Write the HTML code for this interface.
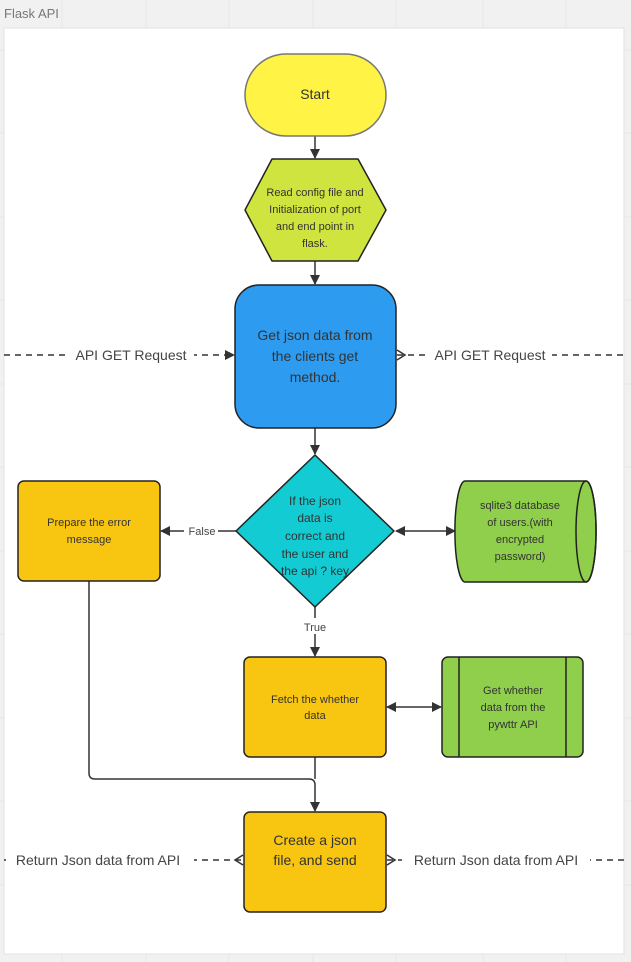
<!DOCTYPE html>
<html><head><meta charset="utf-8"><style>
html,body{margin:0;padding:0;background:#f1f1f1;}
svg{display:block;font-family:"Liberation Sans",sans-serif;}
</style></head><body>
<svg width="631" height="962" viewBox="0 0 631 962" xmlns="http://www.w3.org/2000/svg">
<defs>
<marker id="a" viewBox="0 0 10 10" refX="9" refY="5" markerWidth="10" markerHeight="10" markerUnits="userSpaceOnUse" orient="auto-start-reverse"><path d="M0,0 L10,5 L0,10 z" fill="#333"/></marker>
</defs>
<rect width="631" height="962" fill="#f1f1f1"/>
<g stroke="#e6e6e6" stroke-width="1">
<line x1="62" y1="0" x2="62" y2="962"/><line x1="146" y1="0" x2="146" y2="962"/><line x1="229" y1="0" x2="229" y2="962"/><line x1="313" y1="0" x2="313" y2="962"/><line x1="396" y1="0" x2="396" y2="962"/><line x1="483" y1="0" x2="483" y2="962"/><line x1="566" y1="0" x2="566" y2="962"/>
<line x1="0" y1="50" x2="631" y2="50"/><line x1="0" y1="133" x2="631" y2="133"/><line x1="0" y1="217" x2="631" y2="217"/><line x1="0" y1="300" x2="631" y2="300"/><line x1="0" y1="384" x2="631" y2="384"/><line x1="0" y1="467" x2="631" y2="467"/><line x1="0" y1="551" x2="631" y2="551"/><line x1="0" y1="634" x2="631" y2="634"/><line x1="0" y1="718" x2="631" y2="718"/><line x1="0" y1="801" x2="631" y2="801"/><line x1="0" y1="885" x2="631" y2="885"/>
</g>
<text x="4" y="18" font-size="13" fill="#777">Flask API</text>
<rect x="4" y="28" width="620" height="926" fill="#fff" stroke="#e2e2e2"/>

<g stroke="#333" stroke-width="1.5" fill="none">
<line x1="315" y1="136" x2="315" y2="158" marker-end="url(#a)"/>
<line x1="315" y1="261" x2="315" y2="284" marker-end="url(#a)"/>
<line x1="315" y1="428" x2="315" y2="454" marker-end="url(#a)"/>
<line x1="236" y1="531" x2="161" y2="531" marker-end="url(#a)"/>
<line x1="396" y1="531" x2="455" y2="531" marker-start="url(#a)" marker-end="url(#a)"/>
<line x1="315" y1="607" x2="315" y2="656" marker-end="url(#a)"/>
<line x1="387" y1="707" x2="441" y2="707" marker-start="url(#a)" marker-end="url(#a)"/>
<path d="M89,581 V773 Q89,779 95,779 H309 Q315,779 315,785 V811" marker-end="url(#a)"/>
<line x1="315" y1="757" x2="315" y2="779"/>
<g stroke-dasharray="6,5">
<line x1="4" y1="355" x2="234" y2="355" marker-end="url(#a)"/>
<line x1="397" y1="355" x2="624" y2="355"/>
<line x1="4" y1="860" x2="243" y2="860"/>
<line x1="387" y1="860" x2="624" y2="860"/>
</g>
<polyline points="397,350 405,355 397,360"/>
<polyline points="243,855 235,860 243,865"/>
<polyline points="387,855 395,860 387,865"/>
</g>
<g font-size="14" fill="#444" text-anchor="middle">
<rect x="68" y="345" width="126" height="20" fill="#fff"/><text x="131" y="360">API GET Request</text>
<rect x="428" y="345" width="124" height="20" fill="#fff"/><text x="490" y="360">API GET Request</text>
<rect x="6" y="850" width="188" height="20" fill="#fff"/><text x="98" y="865">Return Json data from API</text>
<rect x="402" y="850" width="188" height="20" fill="#fff"/><text x="496" y="865">Return Json data from API</text>
</g>
<g font-size="11" fill="#444" text-anchor="middle">
<rect x="184" y="523" width="34" height="16" fill="#fff"/><text x="202" y="535">False</text>
<rect x="300" y="618" width="30" height="16" fill="#fff"/><text x="315" y="631">True</text>
</g>

<rect x="245" y="54" width="141" height="82" rx="41" fill="#fff345" stroke="#777" stroke-width="1.5"/>
<text x="315" y="99" font-size="14" text-anchor="middle" fill="#333">Start</text>

<polygon points="272,159 358,159 386,210 358,261 272,261 245,210" fill="#cfe43f" stroke="#222" stroke-width="1.5" stroke-linejoin="round"/>
<g font-size="11" text-anchor="middle" fill="#333">
<text x="315" y="196">Read config file and</text><text x="315" y="213">Initialization of port</text><text x="315" y="230">and end point in</text><text x="315" y="247">flask.</text>
</g>

<rect x="235" y="285" width="161" height="143" rx="24" fill="#2d9bf0" stroke="#222" stroke-width="1.5"/>
<g font-size="14" text-anchor="middle" fill="#333">
<text x="315" y="340">Get json data from</text><text x="315" y="361">the clients get</text><text x="315" y="382">method.</text>
</g>

<polygon points="315,455 394,531 315,607 236,531" fill="#13cbd3" stroke="#222" stroke-width="1.5" stroke-linejoin="round"/>
<g font-size="12" text-anchor="middle" fill="#333">
<text x="315" y="505">If the json</text><text x="315" y="522">data is</text><text x="315" y="540">correct and</text><text x="315" y="558">the user and</text><text x="315" y="575">the api ? key</text>
</g>

<rect x="18" y="481" width="142" height="100" rx="6" fill="#f8c611" stroke="#222" stroke-width="1.5"/>
<g font-size="11" text-anchor="middle" fill="#333"><text x="89" y="526">Prepare the error</text><text x="89" y="543">message</text></g>

<path d="M465,481 H586 A10,50 0 0 1 586,582 H465 A10,50 0 0 1 465,481 Z" fill="#8fcf4b" stroke="#222" stroke-width="1.5"/>
<ellipse cx="586" cy="531.5" rx="10" ry="50.5" fill="none" stroke="#222" stroke-width="1.5"/>
<g font-size="11" text-anchor="middle" fill="#333"><text x="520" y="509">sqlite3 database</text><text x="520" y="526">of users.(with</text><text x="520" y="543">encrypted</text><text x="520" y="560">password)</text></g>

<rect x="244" y="657" width="142" height="100" rx="6" fill="#f8c611" stroke="#222" stroke-width="1.5"/>
<g font-size="11" text-anchor="middle" fill="#333"><text x="315" y="703">Fetch the whether</text><text x="315" y="719">data</text></g>

<rect x="442" y="657" width="141" height="100" rx="6" fill="#8fcf4b" stroke="#222" stroke-width="1.5"/>
<line x1="459" y1="657" x2="459" y2="757" stroke="#222" stroke-width="1.5"/>
<line x1="566" y1="657" x2="566" y2="757" stroke="#222" stroke-width="1.5"/>
<g font-size="11" text-anchor="middle" fill="#333"><text x="513" y="694">Get whether</text><text x="513" y="711">data from the</text><text x="513" y="728">pywttr API</text></g>

<rect x="244" y="812" width="142" height="100" rx="6" fill="#f8c611" stroke="#222" stroke-width="1.5"/>
<g font-size="14" text-anchor="middle" fill="#333"><text x="315" y="845">Create a json</text><text x="315" y="865">file, and send</text></g>
</svg>
</body></html>
